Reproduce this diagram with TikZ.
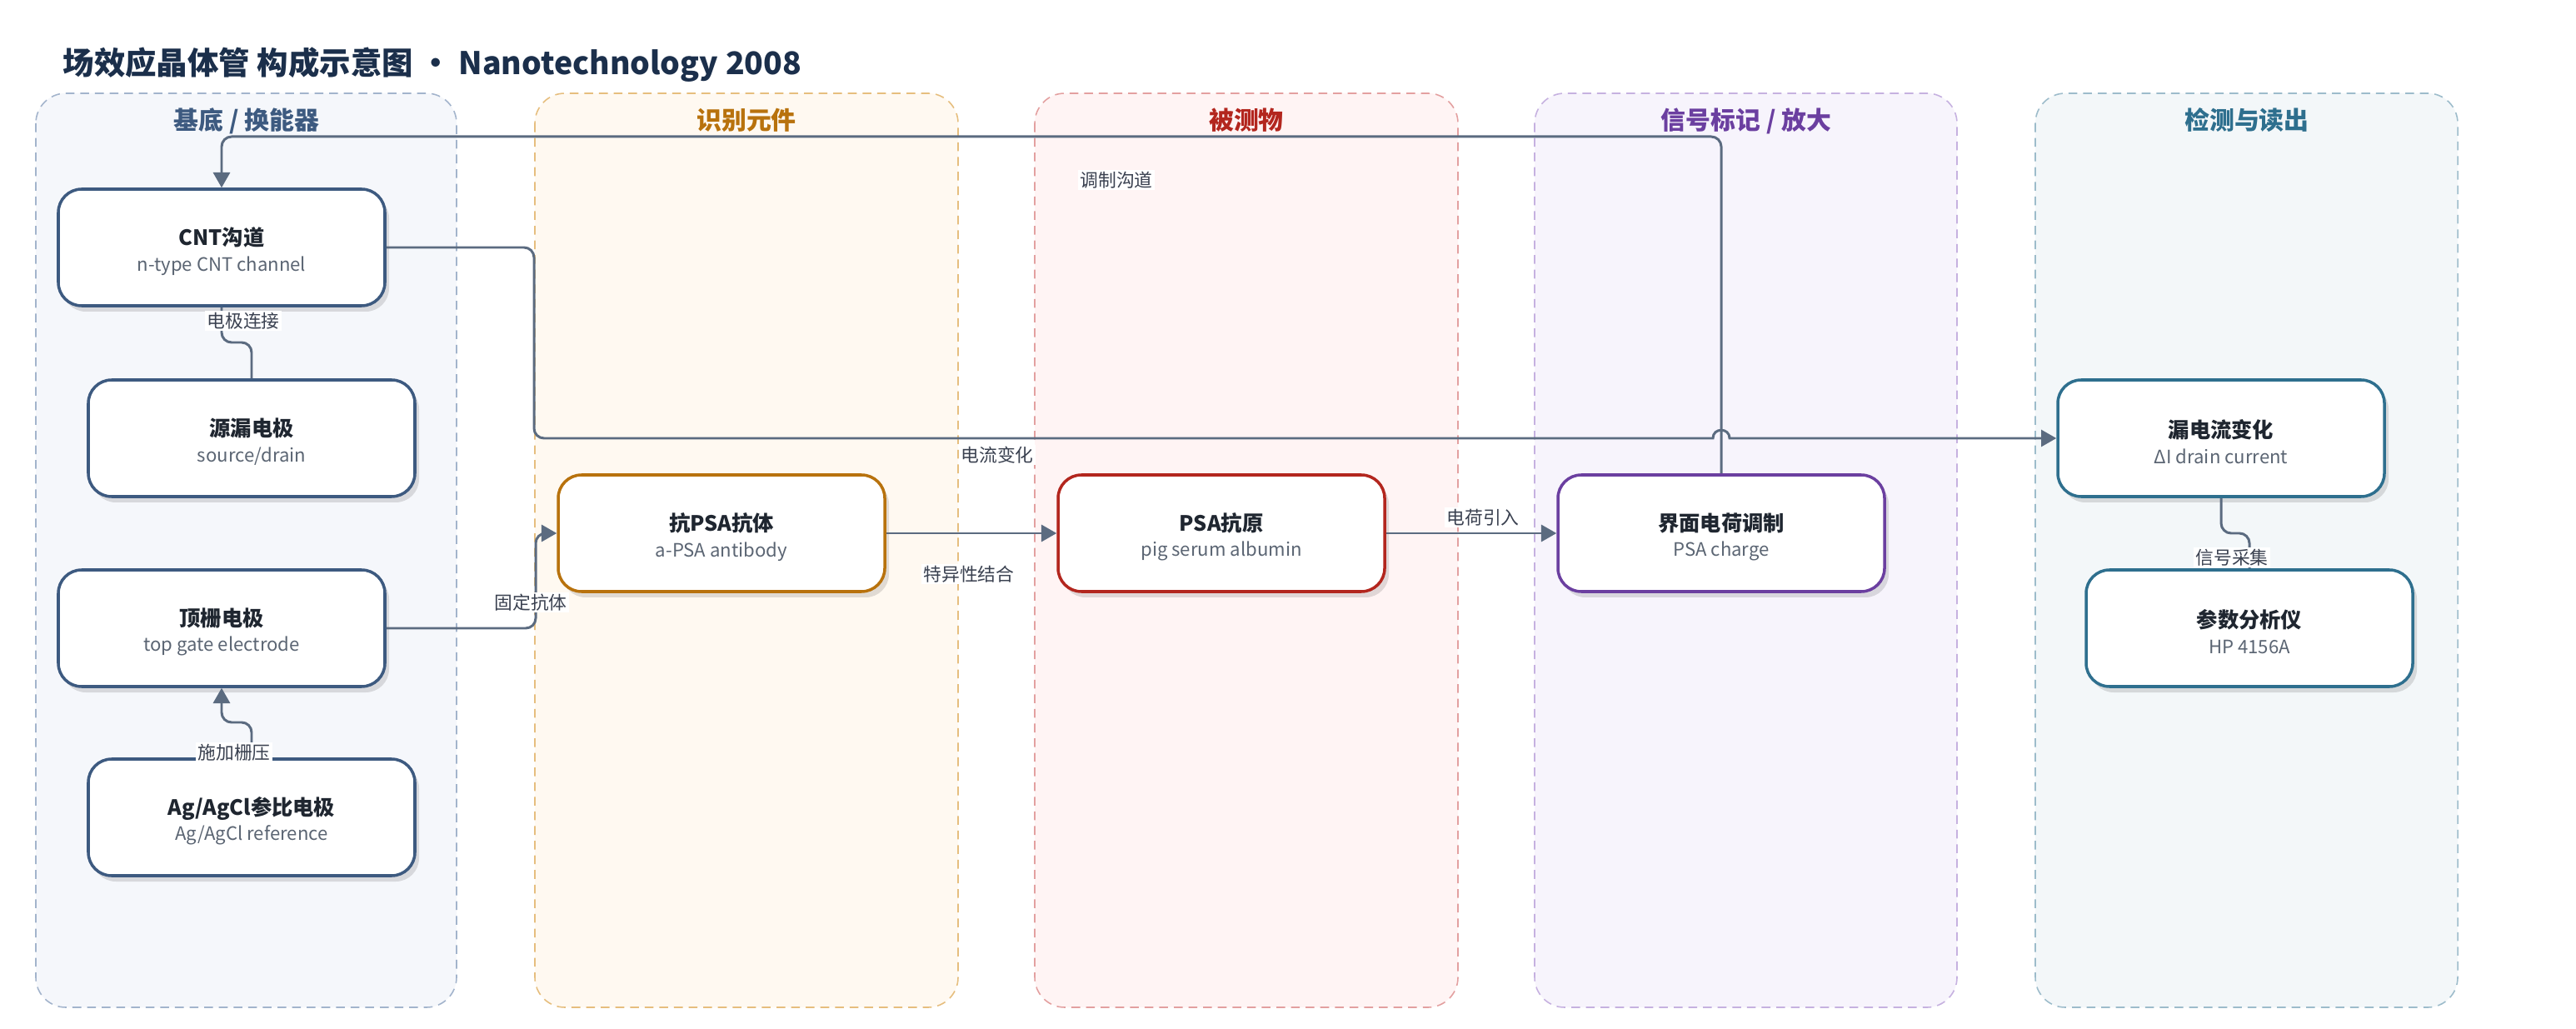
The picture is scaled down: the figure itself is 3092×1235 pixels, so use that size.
\documentclass[tikz,border=0pt]{standalone}
\usepackage{fontspec}
\setmainfont{Noto Sans CJK SC}
\usetikzlibrary{arrows.meta,shadows}
\definecolor{titlec}{HTML}{1B2F4B}
\definecolor{inkc}{HTML}{1F2630}
\definecolor{subc}{HTML}{5B6573}
\definecolor{connc}{HTML}{5B6B80}
\definecolor{labc}{HTML}{3A4150}
% lanes
\definecolor{laAf}{HTML}{F5F7FB}\definecolor{laAd}{HTML}{A3B4CC}\definecolor{laAt}{HTML}{3D5A80}
\definecolor{laBf}{HTML}{FFF9F1}\definecolor{laBd}{HTML}{E6BE7E}\definecolor{laBt}{HTML}{B8720D}
\definecolor{laCf}{HTML}{FFF4F4}\definecolor{laCd}{HTML}{E3A0A0}\definecolor{laCt}{HTML}{B3261E}
\definecolor{laDf}{HTML}{F7F4FC}\definecolor{laDd}{HTML}{C6B1E0}\definecolor{laDt}{HTML}{6B3FA0}
\definecolor{laEf}{HTML}{F3F7F9}\definecolor{laEd}{HTML}{9DBCCB}\definecolor{laEt}{HTML}{2E6F8E}
\newcommand{\bxt}[2]{{\fontsize{7.2}{8.8}\selectfont\bfseries\color{inkc}\rule{0pt}{8.7pt}#1}\\{\color{subc}#2}}
\begin{document}
\begin{tikzpicture}[x=0.1mm,y=-0.1mm,
  lanebox/.style 2 args={draw=#2, fill=#1, line width=0.45pt, dash pattern=on 3pt off 2pt, rounded corners=3.6mm},
  lanetitle/.style={anchor=base, font=\fontsize{8.5}{10}\selectfont\bfseries, text=#1},
  box/.style={draw=#1, line width=1pt, fill=white, rounded corners=2.8mm,
    minimum width=39.2mm, minimum height=14mm, inner sep=0pt, align=center,
    font=\fontsize{6.3}{8.8}\selectfont,
    drop shadow={shadow xshift=0.5mm, shadow yshift=-0.7mm, opacity=0.12, fill=black}},
  conn/.style={draw=connc, line width=0.85pt},
  arr/.style={-{Triangle[length=5.2pt,width=5.7pt]}},
  elabel/.style={fill=white, inner sep=0.6pt, text=labc, font=\fontsize{6.2}{7}\selectfont}
]
\fill[white] (0,0) rectangle (3092,1235);
\useasboundingbox (0,0) rectangle (3092,1235);

% title
\node[anchor=base west, inner sep=0pt, text=titlec, font=\fontsize{10.65}{13}\selectfont\bfseries] (title) at (75,90)
  {场效应晶体管 构成示意图 · Nanotechnology 2008};

% lanes
\path[lanebox={laAf}{laAd}] (43,112) rectangle (548,1209);
\path[lanebox={laBf}{laBd}] (642,112) rectangle (1150,1209);
\path[lanebox={laCf}{laCd}] (1242,112) rectangle (1750,1209);
\path[lanebox={laDf}{laDd}] (1842,112) rectangle (2349,1209);
\path[lanebox={laEf}{laEd}] (2443,112) rectangle (2950,1209);

\node[lanetitle=laAt] (tA) at (296,156) {基底 / 换能器};
\node[lanetitle=laBt] (tB) at (896,156) {识别元件};
\node[lanetitle=laCt] (tC) at (1496,156) {被测物};
\node[lanetitle=laDt] (tD) at (2096,156) {信号标记 / 放大};
\node[lanetitle=laEt] (tE) at (2697,156) {检测与读出};

% boxes
\node[box=laAt] (cnt) at (266,297) {\bxt{CNT沟道}{n-type CNT channel}};
\node[box=laAt] (sd) at (302,526) {\bxt{源漏电极}{source/drain}};
\node[box=laAt] (gate) at (266,754) {\bxt{顶栅电极}{top gate electrode}};
\node[box=laAt] (ref) at (302,981) {\bxt{Ag/AgCl参比电极}{Ag/AgCl reference}};
\node[box=laBt] (ab) at (866,640) {\bxt{抗PSA抗体}{a-PSA antibody}};
\node[box=laCt] (ag) at (1466,640) {\bxt{PSA抗原}{pig serum albumin}};
\node[box=laDt] (chg) at (2066,640) {\bxt{界面电荷调制}{PSA charge}};
\node[box=laEt] (dI) at (2666,526) {\bxt{漏电流变化}{ΔI drain current}};
\node[box=laEt] (hp) at (2700,754) {\bxt{参数分析仪}{HP 4156A}};

% connectors
\draw[conn,arr] (chg.north) [rounded corners=1.2mm] -- (2066,164) -- (266,164) -- (cnt.north);
\draw[conn,arr] (cnt.east) [rounded corners=1.2mm] -- (641,297) -- (641,526) -- (1900,526) [sharp corners] -- (2056,526)
  .. controls (2056,513) and (2076,513) .. (2076,526) -- (dI.west);
\draw[conn] (sd.north) [rounded corners=1.2mm] -- (302,411) -- (266,411) -- (cnt.south);
\draw[conn,arr] (ref.north) [rounded corners=1.2mm] -- (302,867) -- (266,867) -- (gate.south);
\draw[conn,arr] (gate.east) [rounded corners=1.2mm] -- (643,754) -- (643,640) -- (ab.west);
\draw[conn,arr] (ab.east) -- (ag.west);
\draw[conn,arr] (ag.east) -- (chg.west);
\draw[conn] (dI.south) [rounded corners=1.2mm] -- (2666,640) -- (2700,640) -- (hp.north);

% labels
\node[elabel] (l1) at (1197,546) {电流变化};
\node[elabel] (l2) at (1340,216) {调制沟道};
\node[elabel] (l3) at (292,385) {电极连接};
\node[elabel] (l4) at (281,903) {施加栅压};
\node[elabel] (l5) at (637,723) {固定抗体};
\node[elabel] (l6) at (1163,689) {特异性结合};
\node[elabel] (l7) at (1780,621) {电荷引入};
\node[elabel] (l8) at (2679,669) {信号采集};
\end{tikzpicture}
\end{document}
